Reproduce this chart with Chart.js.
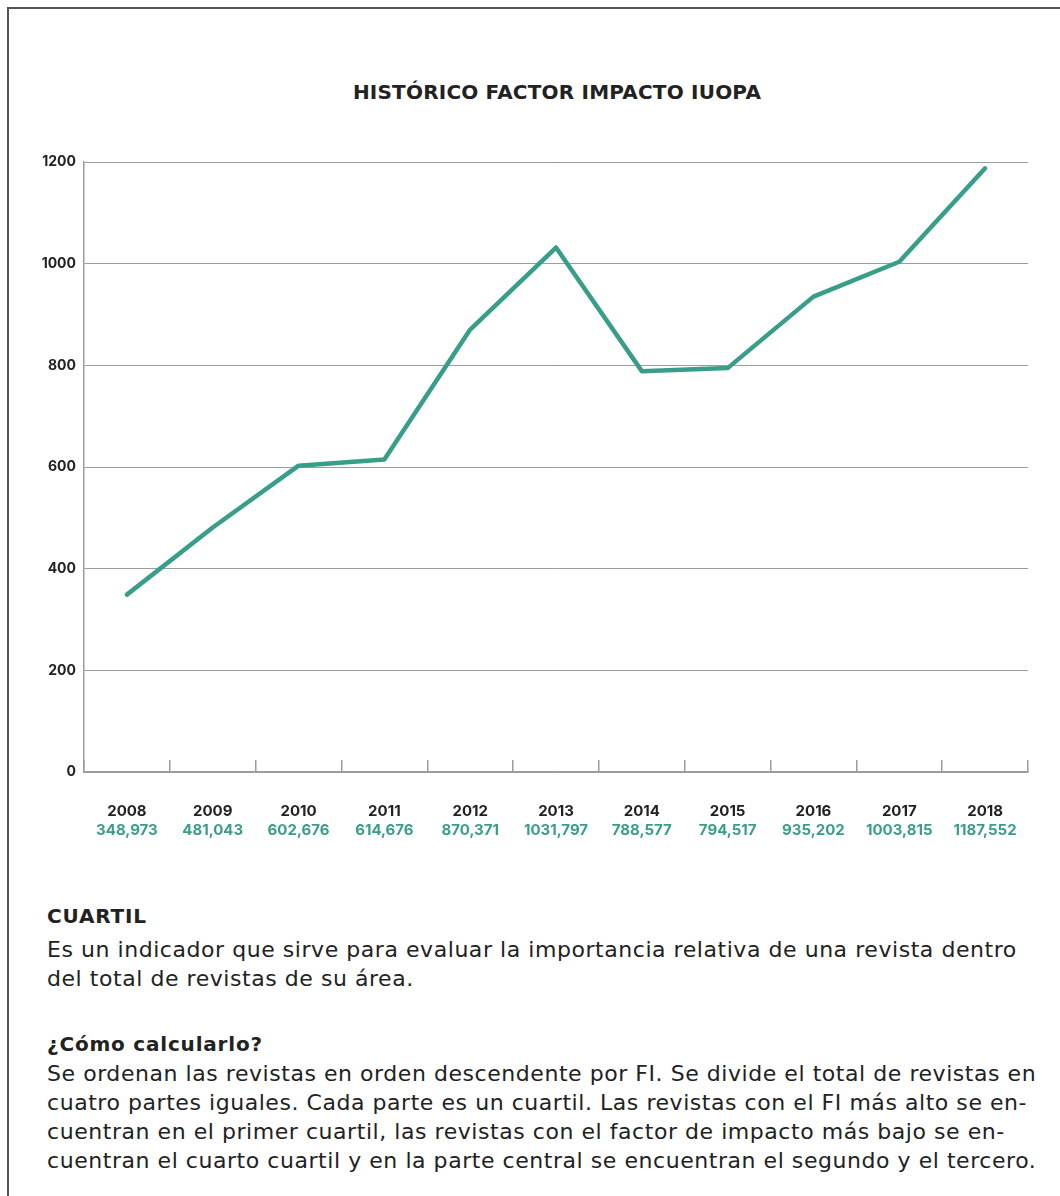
<!DOCTYPE html>
<html lang="es">
<head>
<meta charset="utf-8">
<title>Histórico factor impacto IUOPA</title>
<script src="https://cdn.jsdelivr.net/npm/chart.js@4.4.1/dist/chart.umd.min.js"></script>
<style>
    html, body { margin: 0; padding: 0; background: #fff; }
    body {
        width: 1060px; height: 1196px; position: relative; overflow: hidden;
        font-family: "DejaVu Sans", sans-serif; color: #222;
    }
    .frame {
        position: absolute; left: 7px; top: 7px; width: 1200px; height: 1300px;
        border: 2px solid #555;
    }
    .chart-wrapper { position: absolute; left: 0; top: 0; width: 1060px; height: 860px; }
    .title {
        position: absolute; top: 78px; left: 0; width: 1114px; text-align: center;
        font-weight: 700; font-size: 20px; line-height: 28px; letter-spacing: 0.2px;
    }
    .notes {
        position: absolute; left: 47px; top: 902px; font-size: 22px; line-height: 29px;
        letter-spacing: 0.55px;
    }
    .notes h3 { margin: 0 0 4px 0; font-size: 20px; font-weight: 700; line-height: 29px; letter-spacing: 0.8px; }
    .notes p { margin: 0 0 37px 0; }
</style>
</head>
<body>
<div class="frame"></div>
<div class="title">HISTÓRICO FACTOR IMPACTO IUOPA</div>
<div class="chart-wrapper"><canvas id="myLineChart"></canvas></div>
<div class="notes">
    <h3>CUARTIL</h3>
    <p>Es un indicador que sirve para evaluar la importancia relativa de una revista dentro<br>
    del total de revistas de su área.</p>
    <h3 style="margin-bottom:0">¿Cómo calcularlo?</h3>
    <p>Se ordenan las revistas en orden descendente por FI. Se divide el total de revistas en<br>
    cuatro partes iguales. Cada parte es un cuartil. Las revistas con el FI más alto se en-<br>
    cuentran en el primer cuartil, las revistas con el factor de impacto más bajo se en-<br>
    cuentran el cuarto cuartil y en la parte central se encuentran el segundo y el tercero.</p>
</div>
<script>
document.addEventListener('DOMContentLoaded', () => {
    const years = ['2008', '2009', '2010', '2011', '2012', '2013', '2014', '2015', '2016', '2017', '2018'];
    const impactFactor = [348.973, 481.043, 602.676, 614.676, 870.371, 1031.797, 788.577, 794.517, 935.202, 1003.815, 1187.552];
    const impactLabels = ['348,973', '481,043', '602,676', '614,676', '870,371', '1031,797', '788,577', '794,517', '935,202', '1003,815', '1187,552'];
    const yMin = 0;
    const yMax = 1200;
    const yStep = 200;

    const teal = '#389e8a';
    const gridGray = '#9c9c9c';
    const labelFont = 'Inter, "DejaVu Sans", sans-serif';

    const ctx = document.getElementById('myLineChart').getContext('2d');
    new Chart(ctx, {
        type: 'line',
        data: {
            labels: years,
            datasets: [{
                label: 'Factor impacto',
                data: impactFactor,
                borderColor: teal,
                borderWidth: 4.5,
                borderCapStyle: 'round',
                borderJoinStyle: 'round',
                pointRadius: 0,
                tension: 0,
                fill: false,
                xAxisID: 'x',
                yAxisID: 'y'
            }]
        },
        options: {
            responsive: true,
            maintainAspectRatio: false,
            animation: false,
            layout: { padding: { top: 162, right: 32, bottom: 10, left: 0 } },
            plugins: {
                legend: { display: false },
                title: { display: false },
                tooltip: { enabled: false }
            },
            scales: {
                x: {
                    type: 'category',
                    position: 'bottom',
                    weight: 0,
                    offset: true,
                    grid: {
                        display: true,
                        drawOnChartArea: false,
                        drawTicks: true,
                        tickLength: -12,
                        offset: true,
                        color: gridGray,
                        lineWidth: 1.5
                    },
                    border: { display: true, color: gridGray, width: 1.5 },
                    ticks: {
                        padding: 42,
                        maxRotation: 0,
                        autoSkip: false,
                        color: '#222',
                        font: { family: labelFont, size: 15, weight: 'bold' }
                    },
                    afterFit: scale => { scale.height = 48; }
                },
                x2: {
                    type: 'category',
                    position: 'bottom',
                    weight: 1,
                    labels: impactLabels,
                    offset: true,
                    grid: { display: false, drawTicks: false },
                    border: { display: false },
                    ticks: {
                        padding: 1,
                        maxRotation: 0,
                        autoSkip: false,
                        color: teal,
                        font: { family: labelFont, size: 15, weight: 'bold' }
                    },
                    afterFit: scale => { scale.height = 30; }
                },
                y: {
                    min: yMin,
                    max: yMax,
                    ticks: {
                        stepSize: yStep,
                        padding: 8,
                        color: '#222',
                        font: { family: labelFont, size: 14, weight: 'bold' },
                        callback: value => String(value)
                    },
                    grid: {
                        display: true,
                        drawTicks: false,
                        color: gridGray,
                        lineWidth: 1
                    },
                    border: { display: true, color: gridGray, width: 1.5 },
                    afterFit: scale => { scale.width = 84; }
                }
            }
        }
    });
});
</script>
</body>
</html>
